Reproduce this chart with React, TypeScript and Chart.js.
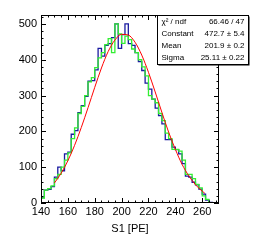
import React, { useEffect, useRef } from "react";
import { Chart, registerables } from "chart.js";

Chart.register(...registerables);

const binLow = 140;
const binWidth = 2.5;
const xMin = 140;
const xMax = 272.5;
const yMax = 525;

const blueCounts = [
  17, 15, 36, 38, 46, 72, 100, 90, 137, 142, 192, 202, 252, 272, 298, 340, 342, 372,
  432, 410, 440, 445, 462, 500, 432, 470, 500, 445, 440, 420, 395, 370, 335, 318, 290,
  265, 244, 221, 177, 177, 156, 149, 137, 110, 75, 72, 58, 51, 39, 25, 8, 2, 0,
];
const greenCounts = [
  12, 14, 36, 40, 48, 68, 80, 100, 120, 140, 180, 210, 250, 270, 300, 338, 350, 378,
  405, 420, 442, 459, 420, 500, 472, 446, 466, 456, 430, 420, 400, 380, 355, 300, 290,
  280, 250, 230, 195, 180, 150, 150, 145, 120, 80, 80, 68, 52, 42, 20, 10, 0, 0,
];

const fitX = [150, 155, 160, 165, 170, 175, 180, 185, 190, 195, 200, 205, 210, 215, 220, 225, 230, 235, 240, 245, 250, 255, 260, 262];
const fitY = [56, 83, 118, 161, 211, 266, 323, 377, 423, 455, 471, 469, 449, 413, 365, 310, 253, 198, 150, 108, 76, 51, 33, 27];

const xTicks = [140, 160, 180, 200, 220, 240, 260];
const yTicks = [0, 100, 200, 300, 400, 500];
const xMinorStep = 5;
const yMinorStep = 20;

const statsLabels = ["χ² / ndf", "Constant", "Mean", "Sigma"];
const statsValues = ["66.46 / 47", "472.7 ± 5.4", "201.9 ± 0.2", "25.11 ± 0.22"];

const FONT = "'Liberation Sans', Arial, Helvetica, sans-serif";

function histPoints(counts: number[]) {
  const pts = counts.map((c, i) => ({ x: binLow + i * binWidth, y: c }));
  pts.push({ x: binLow + counts.length * binWidth, y: counts[counts.length - 1] });
  return pts;
}

const framePlugin = {
  id: "rootFrame",
  afterDatasetsDraw(chart: any) {
    const { ctx, chartArea } = chart;
    const { left, right, top, bottom } = chartArea;
    const xs = chart.scales.x;
    const ys = chart.scales.y;
    ctx.save();
    ctx.strokeStyle = "#000";
    ctx.lineWidth = 1;
    ctx.strokeRect(left + 0.5, top + 0.5, right - left - 1, bottom - top - 1);
    ctx.beginPath();
    for (let v = xMin; v <= xMax + 1e-6; v += xMinorStep) {
      const px = Math.round(xs.getPixelForValue(v)) + 0.5;
      const major = xTicks.includes(v);
      const len = major ? 5 : 2.5;
      ctx.moveTo(px, bottom);
      ctx.lineTo(px, bottom - len);
      ctx.moveTo(px, top);
      ctx.lineTo(px, top + len);
    }
    for (let v = 0; v <= yMax + 1e-6; v += yMinorStep) {
      const py = Math.round(ys.getPixelForValue(v)) + 0.5;
      const major = yTicks.includes(v);
      const len = major ? 5 : 2.5;
      ctx.moveTo(left, py);
      ctx.lineTo(left + len, py);
      ctx.moveTo(right, py);
      ctx.lineTo(right - len, py);
    }
    ctx.stroke();
    ctx.restore();
  },
  afterDraw(chart: any) {
    const { ctx } = chart;
    const bx = 157.5, by = 15.5, bw = 91, bh = 49;
    ctx.save();
    ctx.fillStyle = "#000";
    ctx.fillRect(bx + 1, by + 1, bw, bh);
    ctx.fillStyle = "#fff";
    ctx.fillRect(bx, by, bw, bh);
    ctx.strokeStyle = "#000";
    ctx.lineWidth = 1;
    ctx.strokeRect(bx, by, bw, bh);
    ctx.font = `8px ${FONT}`;
    ctx.fillStyle = "#000";
    ctx.textBaseline = "middle";
    statsLabels.forEach((lab, i) => {
      const ty = 21.5 + i * 12;
      ctx.textAlign = "left";
      ctx.fillText(lab, 161.5, ty);
      ctx.textAlign = "right";
      ctx.fillText(statsValues[i], 244.5, ty);
    });
    ctx.restore();
  },
};

export default function App() {
  const ref = useRef<HTMLCanvasElement>(null);
  useEffect(() => {
    if (!ref.current) return;
    const chart = new Chart(ref.current, {
      type: "line",
      data: {
        datasets: [
          {
            label: "fit",
            data: fitX.map((x, i) => ({ x, y: fitY[i] })),
            borderColor: "#ff0000",
            borderWidth: 1,
            pointRadius: 0,
            tension: 0.4,
            cubicInterpolationMode: "monotone",
            fill: false,
            order: 0,
          },
          {
            label: "green",
            data: histPoints(greenCounts),
            borderColor: "#33ee33",
            borderWidth: 1.3,
            pointRadius: 0,
            stepped: "after",
            fill: false,
            order: 1,
          },
          {
            label: "blue",
            data: histPoints(blueCounts),
            borderColor: "#1a1aa0",
            borderWidth: 1.3,
            pointRadius: 0,
            stepped: "after",
            fill: false,
            order: 2,
          },
        ],
      } as any,
      options: {
        animation: false,
        responsive: false,
        events: [],
        layout: { padding: { top: 15, right: 35, left: 0, bottom: 0 } },
        plugins: { legend: { display: false }, tooltip: { enabled: false } },
        scales: {
          x: {
            type: "linear",
            min: xMin,
            max: xMax,
            grid: { display: false, drawTicks: false },
            border: { display: false },
            afterBuildTicks: (s: any) => {
              s.ticks = xTicks.map((v) => ({ value: v }));
            },
            afterFit: (s: any) => {
              s.height = 39;
            },
            ticks: {
              autoSkip: false,
              maxRotation: 0,
              padding: 2,
              color: "#000",
              font: { family: FONT, size: 11 },
              callback: (v: any) => String(v),
            },
            title: {
              display: true,
              text: "S1 [PE]",
              color: "#000",
              font: { family: FONT, size: 11 },
              padding: { top: 0, bottom: 6 },
              align: "center",
            },
          },
          y: {
            type: "linear",
            min: 0,
            max: yMax,
            grid: { display: false, drawTicks: false },
            border: { display: false },
            afterBuildTicks: (s: any) => {
              s.ticks = yTicks.map((v) => ({ value: v }));
            },
            afterFit: (s: any) => {
              s.width = 41;
            },
            ticks: {
              autoSkip: false,
              padding: 4,
              color: "#000",
              font: { family: FONT, size: 11 },
              callback: (v: any) => String(v),
            },
          },
        },
      } as any,
      plugins: [framePlugin],
    });
    return () => chart.destroy();
  }, []);
  return (
    <div style={{ position: "absolute", left: 0, top: 0, width: 254, height: 242, background: "#fff" }}>
      <canvas ref={ref} width={254} height={242} style={{ display: "block" }} />
    </div>
  );
}
